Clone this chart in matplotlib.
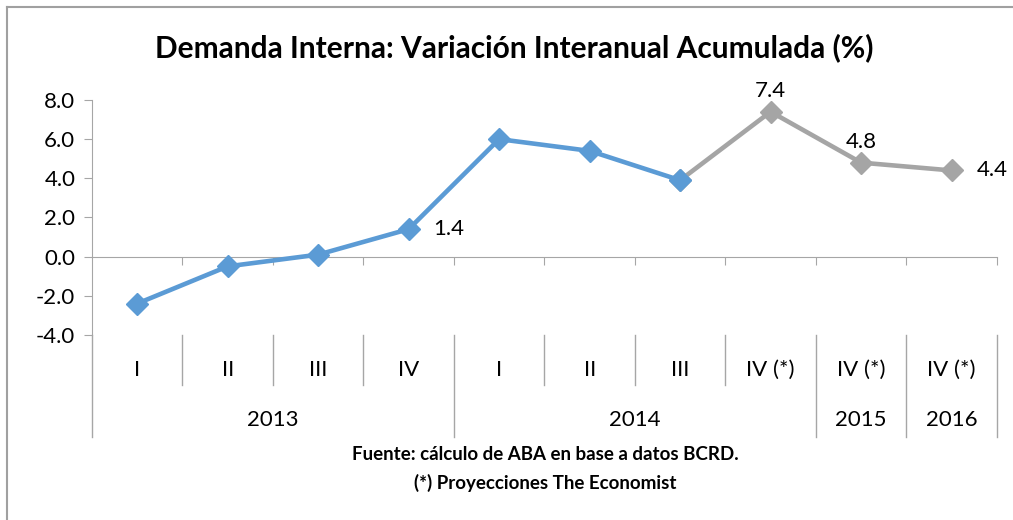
import matplotlib.pyplot as plt
import numpy as np

plt.rcParams['font.family'] = ['Lato', 'DejaVu Sans']

quarters = ['I', 'II', 'III', 'IV', 'I', 'II', 'III', 'IV (*)', 'IV (*)', 'IV (*)']
years = ['2013', '2014', '2015', '2016']
year_spans = [(0, 3), (4, 7), (8, 8), (9, 9)]
hist = [-2.4, -0.5, 0.1, 1.4, 6.0, 5.4, 3.9]
proj = [3.9, 7.4, 4.8, 4.4]
labels = {3: '1.4', 7: '7.4', 8: '4.8', 9: '4.4'}

blue = '#5B9BD5'
gray = '#A5A5A5'
axc = '#A6A6A6'
fs = 16

fig = plt.figure(figsize=(10.13, 5.2), dpi=100)
ax = fig.add_axes([0.0908, 0.356, 0.8932, 0.4517])

x_hist = np.arange(len(hist))
x_proj = np.arange(len(hist) - 1, len(hist) - 1 + len(proj))
ax.plot(x_proj, proj, color=gray, lw=3.3, marker='D', ms=11, zorder=3)
ax.plot(x_hist, hist, color=blue, lw=3.3, marker='D', ms=11, zorder=4)

vals = hist + proj[1:]
for i, t in labels.items():
    if i in (3, 9):
        ax.annotate(t, (i, vals[i]), xytext=(18, 0), textcoords='offset points',
                    ha='left', va='center', fontsize=fs)
    else:
        ax.annotate(t, (i, vals[i]), xytext=(0, 8), textcoords='offset points',
                    ha='center', va='bottom', fontsize=fs)

ax.set_xlim(-0.5, 9.5)
ax.set_ylim(-4, 8)
ax.set_yticks(np.arange(-4, 9, 2))
ax.set_yticklabels([f'{v:.1f}' for v in np.arange(-4, 9, 2)], fontsize=fs)
for s in ['top', 'right']:
    ax.spines[s].set_visible(False)
ax.spines['left'].set_color(axc)
ax.spines['bottom'].set_color(axc)
ax.spines['bottom'].set_position(('data', 0))
ax.set_xticks(np.arange(0.5, 10, 1))
ax.set_xticklabels([])
ax.tick_params(axis='x', direction='out', length=6, color=axc)
ax.tick_params(axis='y', direction='out', length=6, color=axc, pad=6)

# multi-level category axis
tr = ax.get_xaxis_transform()
ax.plot([-0.5, -0.5], [0, -0.434], color=axc, lw=1, transform=tr, clip_on=False)
for b in [0.5, 1.5, 2.5, 4.5, 5.5, 6.5]:
    ax.plot([b, b], [0, -0.213], color=axc, lw=1, transform=tr, clip_on=False)
for b in [3.5, 7.5, 8.5, 9.5]:
    ax.plot([b, b], [0, -0.434], color=axc, lw=1, transform=tr, clip_on=False)
for i, q in enumerate(quarters):
    ax.text(i, -0.149, q, transform=tr, ha='center', va='center', fontsize=fs)
for y, (a, b) in zip(years, year_spans):
    ax.text((a + b) / 2, -0.362, y, transform=tr, ha='center', va='center', fontsize=fs)

fig.text(0.508, 0.908, 'Demanda Interna: Variación Interanual Acumulada (%)',
         ha='center', va='center', fontsize=21.5, fontweight='bold')
fig.text(0.538, 0.125, 'Fuente: cálculo de ABA en base a datos BCRD.',
         ha='center', va='center', fontsize=13.5, fontweight='bold')
fig.text(0.538, 0.071, '(*) Proyecciones The Economist',
         ha='center', va='center', fontsize=13.5, fontweight='bold')

# chart border
fig.add_artist(plt.Line2D([7 / 1013, 1], [1 - 7 / 520, 1 - 7 / 520], color='#A0A0A0', lw=1.5))
fig.add_artist(plt.Line2D([7 / 1013, 7 / 1013], [0, 1 - 7 / 520], color='#A0A0A0', lw=1.5))

fig.savefig('out.png', dpi=100)
